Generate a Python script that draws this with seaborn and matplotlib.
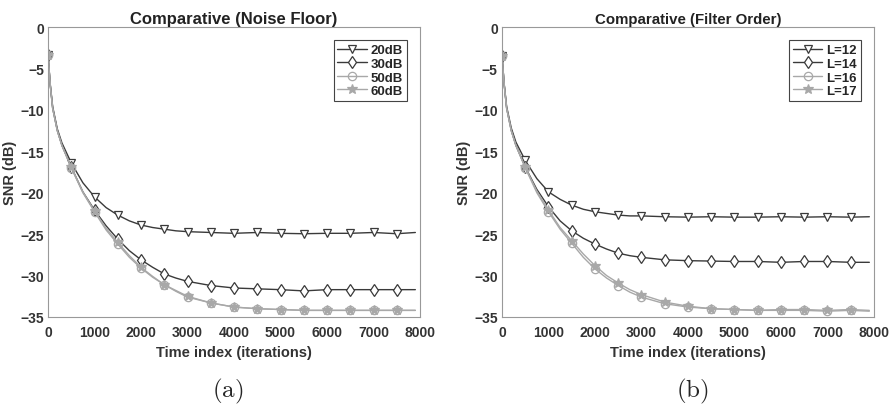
import seaborn as sns
import matplotlib.pyplot as plt
import pandas as pd

t = [0, 50, 100, 200, 300, 500, 750, 1000, 1250, 1500, 1750, 2000, 2250, 2500, 2750,
     3000, 3500, 4000, 4500, 5000, 5500, 6000, 6500, 7000, 7500, 7900]

# (a) noise floor
snr_20db = [-3.4, -7.0, -9.6, -12.3, -14.0, -16.4, -18.8, -20.5, -21.8, -22.7, -23.4, -23.9, -24.2, -24.4, -24.6,
            -24.7, -24.8, -24.9, -24.8, -24.9, -24.95, -24.9, -24.9, -24.8, -24.95, -24.8]
snr_30db = [-3.4, -7.1, -9.8, -12.5, -14.3, -16.9, -19.9, -22.1, -24.0, -25.6, -27.0, -28.1, -29.0, -29.8, -30.3,
            -30.7, -31.2, -31.5, -31.6, -31.7, -31.85, -31.7, -31.7, -31.7, -31.7, -31.7]
snr_50db = [-3.4, -7.1, -9.8, -12.5, -14.3, -17.0, -20.0, -22.3, -24.5, -26.2, -27.8, -29.1, -30.2, -31.1, -31.9,
            -32.6, -33.3, -33.8, -34.0, -34.1, -34.2, -34.2, -34.2, -34.2, -34.2, -34.2]
snr_60db = [-3.4, -7.1, -9.8, -12.5, -14.3, -16.9, -19.9, -22.2, -24.3, -26.0, -27.6, -29.0, -30.1, -31.1, -31.8,
            -32.5, -33.3, -33.8, -34.0, -34.1, -34.2, -34.2, -34.2, -34.2, -34.2, -34.2]

# (b) filter order
snr_l12 = [-3.5, -7.0, -9.6, -12.2, -13.9, -16.1, -18.3, -19.9, -20.8, -21.5, -22.0, -22.3, -22.5, -22.7, -22.8,
           -22.8, -22.9, -22.95, -22.9, -22.95, -22.95, -22.9, -22.95, -22.9, -22.95, -22.9]
snr_l14 = [-3.5, -7.1, -9.8, -12.5, -14.3, -16.9, -19.6, -21.7, -23.4, -24.6, -25.5, -26.2, -26.8, -27.3, -27.6,
           -27.8, -28.1, -28.2, -28.25, -28.3, -28.3, -28.4, -28.3, -28.3, -28.4, -28.4]
snr_l16 = [-3.5, -7.1, -9.8, -12.5, -14.3, -17.0, -20.0, -22.3, -24.4, -26.1, -27.8, -29.2, -30.3, -31.2, -32.0,
           -32.6, -33.4, -33.8, -34.0, -34.1, -34.2, -34.2, -34.2, -34.3, -34.2, -34.3]
snr_l17 = [-3.5, -7.1, -9.8, -12.5, -14.3, -16.9, -19.8, -22.1, -24.2, -25.8, -27.4, -28.8, -30.0, -30.9, -31.7,
           -32.3, -33.2, -33.7, -34.0, -34.1, -34.2, -34.1, -34.1, -34.2, -34.1, -34.2]

labels_a = ['20dB', '30dB', '50dB', '60dB']
labels_b = ['L=12', 'L=14', 'L=16', 'L=17']

sns.set_style('white')
plt.rcParams['font.family'] = ['Liberation Sans', 'DejaVu Sans']
plt.rcParams['mathtext.fontset'] = 'cm'

dark = '#3a3a3a'
light = '#a8a8a8'
styles = [
    dict(color=dark, marker='v', mfc='white', mec=dark, ms=6),
    dict(color=dark, marker='d', mfc='white', mec=dark, ms=6),
    dict(color=light, marker='o', mfc='none', mec=light, ms=6),
    dict(color=light, marker='*', mfc=light, mec=light, ms=7),
]
marks = [i for i, v in enumerate(t) if v % 500 == 0]

fig = plt.figure(figsize=(8.94, 4.1), dpi=100)
ax_a = fig.add_axes([0.0537, 0.2244, 0.4161, 0.7073])
ax_b = fig.add_axes([0.5615, 0.2244, 0.4161, 0.7073])

panels = [
    (ax_a, [snr_20db, snr_30db, snr_50db, snr_60db], labels_a, 'Comparative (Noise Floor)', 12),
    (ax_b, [snr_l12, snr_l14, snr_l16, snr_l17], labels_b, 'Comparative (Filter Order)', 10.8),
]

for ax, series, labels, title, tsize in panels:
    for vals, lab, st in zip(series, labels, styles):
        df = pd.DataFrame({'t': t, 'snr': vals})
        sns.lineplot(data=df, x='t', y='snr', ax=ax, label=lab, color=st['color'], lw=1.0,
                     marker=st['marker'], markevery=marks, markerfacecolor=st['mfc'],
                     markeredgecolor=st['mec'], markersize=st['ms'], markeredgewidth=0.9)
    ax.set_xlim(0, 8000)
    ax.set_ylim(-35, 0)
    ax.set_xticks(range(0, 8001, 1000))
    ax.set_yticks(range(-35, 1, 5))
    ax.tick_params(direction='in', length=4, color='#888888', labelcolor='#333333', labelsize=10)
    ax.tick_params(axis='x', pad=6)
    ax.tick_params(axis='y', pad=3)
    for lab in ax.get_xticklabels() + ax.get_yticklabels():
        lab.set_fontweight('bold')
    for sp in ax.spines.values():
        sp.set_color('#999999')
        sp.set_linewidth(0.8)
    ax.set_title(title, fontsize=tsize, fontweight='bold', color='#222222', pad=3)
    ax.set_xlabel('Time index (iterations)', fontsize=10.5, fontweight='bold', color='#333333', labelpad=4)
    ax.set_ylabel('SNR (dB)', fontsize=10.5, fontweight='bold', color='#333333', labelpad=2)
    leg = ax.legend(loc='upper right', fancybox=False, framealpha=1, edgecolor='#444444',
                    prop={'weight': 'bold', 'size': 9.5}, handlelength=2.2, handletextpad=0.3,
                    labelspacing=0.1, borderpad=0.3, borderaxespad=1.0)
    leg.get_frame().set_linewidth(0.8)

fig.text(0.255, 0.046, r'$\mathrm{(a)}$', ha='center', va='center', fontsize=18)
fig.text(0.774, 0.046, r'$\mathrm{(b)}$', ha='center', va='center', fontsize=18)

fig.savefig('out.png', dpi=100)
